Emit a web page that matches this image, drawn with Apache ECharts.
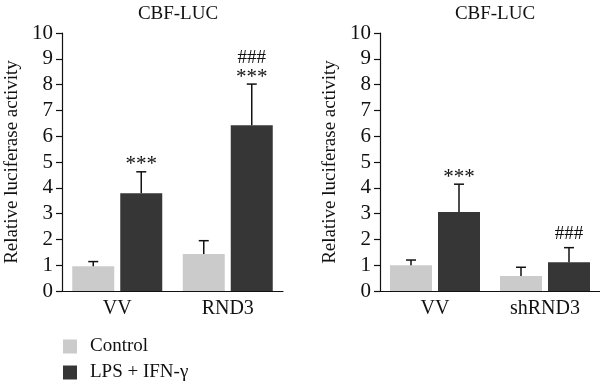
<!DOCTYPE html>
<html><head><meta charset="utf-8">
<script src="https://cdn.jsdelivr.net/npm/echarts@6/dist/echarts.min.js"></script>
<style>html,body{margin:0;padding:0;background:#fff}#c{width:600px;height:386px}</style>
</head><body><div id="c"></div>
<script>
const titleText = 'CBF-LUC';
const yName = 'Relative luciferase activity';
const seriesNames = ['Control', 'LPS + IFN-\u03b3'];
const yTicks = [0,1,2,3,4,5,6,7,8,9,10];

const catsA = ['VV', 'RND3'];
const ctrlA = [0.96, 1.43];
const ctrlErrA = [1.14, 1.95];
const lpsA = [3.79, 6.42];
const lpsErrA = [4.62, 8.02];
const ctrlSigA = [[], []];
const lpsSigA = [['***'], ['***', '###']];

const catsB = ['VV', 'shRND3'];
const ctrlB = [1.00, 0.58];
const ctrlErrB = [1.20, 0.92];
const lpsB = [3.06, 1.11];
const lpsErrB = [4.14, 1.68];
const ctrlSigB = [[], []];
const lpsSigB = [['***'], ['###']];

const COL = ['#cbcbcb', '#363636'];
const FONT = 'Liberation Serif';
const BW = 42, GAP = 6;

function errSeries(idx, cats, vals, errs, sigs, side, name) {
  return {
    type: 'custom', xAxisIndex: idx, yAxisIndex: idx, name: name, z: 5,
    data: cats.map((c, i) => [i, vals[i], errs[i]]),
    renderItem: function (params, api) {
      const i = api.value(0);
      const off = side * (BW / 2 + GAP / 2);
      const p0 = api.coord([i, api.value(1)]);
      const p1 = api.coord([i, api.value(2)]);
      const x = p0[0] + off;
      const children = [
        {type: 'line', shape: {x1: x, y1: p0[1], x2: x, y2: p1[1]}, style: {stroke: '#111', lineWidth: 1.5}},
        {type: 'line', shape: {x1: x - 5, y1: p1[1], x2: x + 5, y2: p1[1]}, style: {stroke: '#111', lineWidth: 1.5}}
      ];
      (sigs[i] || []).forEach((s, k) => {
        const star = s.indexOf('*') >= 0;
        const bottom = k === 0 ? (star ? p1[1] + 1 : p1[1] - 6) : p1[1] - 18;
        children.push({type: 'text', style: {text: s, x: x, y: bottom, align: 'center', verticalAlign: 'bottom',
          font: (star ? 21 : 19) + 'px "' + FONT + '"', fill: '#111', lineHeight: 16}});
      });
      return {type: 'group', children: children};
    }
  };
}

function axisPair(idx, cats) {
  return {
    x: {type: 'category', gridIndex: idx, data: cats,
      axisLine: {lineStyle: {color: '#111', width: 1.2}}, axisTick: {show: false},
      axisLabel: {color: '#111', fontFamily: FONT, fontSize: 20, margin: 8}},
    y: {type: 'value', gridIndex: idx, min: 0, max: 10, interval: 1,
      name: yName, nameLocation: 'middle', nameGap: 40, nameRotate: 90,
      nameTextStyle: {color: '#111', fontFamily: FONT, fontSize: 19},
      axisLine: {show: true, lineStyle: {color: '#111', width: 1.2}},
      axisTick: {show: true, length: 6, lineStyle: {color: '#111', width: 1.2}},
      splitLine: {show: false},
      axisLabel: {color: '#111', fontFamily: FONT, fontSize: 21, margin: 9,
        formatter: v => yTicks.includes(v) ? String(v) : ''}}
  };
}
const A = axisPair(0, catsA), B = axisPair(1, catsB);

function legendFor(name, top) {
  return {orient: 'vertical', left: 63, top: top, itemWidth: 14, itemHeight: 14,
    icon: 'rect', data: [name], padding: 0,
    textStyle: {fontFamily: FONT, fontSize: 19, color: '#111', padding: [0, 0, 0, 8]}};
}

const chart = echarts.init(document.getElementById('c'));
chart.setOption({
  animation: false,
  title: [
    {text: titleText, left: 173, top: 0, textAlign: 'center', textStyle: {fontFamily: FONT, fontSize: 19, fontWeight: 'normal', color: '#111'}},
    {text: titleText, left: 490, top: 0, textAlign: 'center', textStyle: {fontFamily: FONT, fontSize: 19, fontWeight: 'normal', color: '#111'}}
  ],
  legend: [legendFor(seriesNames[0], 337), legendFor(seriesNames[1], 363)],
  grid: [
    {left: 62, width: 221, top: 33, height: 258},
    {left: 380, width: 220, top: 33, height: 258}
  ],
  xAxis: [A.x, B.x],
  yAxis: [A.y, B.y],
  series: [
    {type: 'bar', name: seriesNames[0], xAxisIndex: 0, yAxisIndex: 0, data: ctrlA, barWidth: BW, barGap: (GAP / BW * 100) + '%', itemStyle: {color: COL[0]}},
    {type: 'bar', name: seriesNames[1], xAxisIndex: 0, yAxisIndex: 0, data: lpsA, barWidth: BW, barGap: (GAP / BW * 100) + '%', itemStyle: {color: COL[1]}},
    {type: 'bar', name: seriesNames[0], xAxisIndex: 1, yAxisIndex: 1, data: ctrlB, barWidth: BW, barGap: (GAP / BW * 100) + '%', itemStyle: {color: COL[0]}},
    {type: 'bar', name: seriesNames[1], xAxisIndex: 1, yAxisIndex: 1, data: lpsB, barWidth: BW, barGap: (GAP / BW * 100) + '%', itemStyle: {color: COL[1]}},
    errSeries(0, catsA, ctrlA, ctrlErrA, ctrlSigA, -1, 'errA0'),
    errSeries(0, catsA, lpsA, lpsErrA, lpsSigA, 1, 'errA1'),
    errSeries(1, catsB, ctrlB, ctrlErrB, ctrlSigB, -1, 'errB0'),
    errSeries(1, catsB, lpsB, lpsErrB, lpsSigB, 1, 'errB1')
  ]
});
</script></body></html>
